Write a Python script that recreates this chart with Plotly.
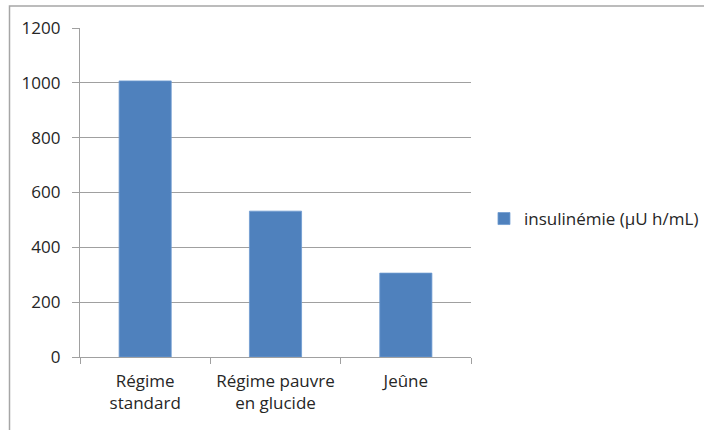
import plotly.graph_objects as go

categories = ["Régime<br>standard", "Régime pauvre<br>en glucide", "Jeûne"]
values = [1007, 532, 306]
series_name = "insulinémie (µU h/mL)"
y_ticks = [0, 200, 400, 600, 800, 1000, 1200]

font_family = "'Open Sans', 'Noto Sans', sans-serif"
grid_col = "#a0a0a0"
text_col = "#262626"

fig = go.Figure()
fig.add_trace(go.Bar(
    x=categories, y=values, name=series_name,
    marker=dict(color="#4f81bd", line=dict(color="#6f9bd0", width=0.8)),
    showlegend=True,
))

fig.update_layout(
    width=704, height=430,
    margin=dict(l=80, r=233, t=28, b=73, autoexpand=False),
    paper_bgcolor="white", plot_bgcolor="white",
    font=dict(family=font_family, size=17, color=text_col),
    bargap=0.6,
    showlegend=True,
    legend=dict(x=1.0332, y=0.4195, xanchor="left", yanchor="middle",
                font=dict(size=17, color=text_col), bgcolor="rgba(0,0,0,0)",
                itemwidth=30, tracegroupgap=0),
    xaxis=dict(
        showgrid=False, showline=True, linecolor=grid_col, linewidth=1.3,
        ticks="outside", tickson="boundaries", ticklen=6, tickcolor=grid_col,
        tickwidth=1.3, ticklabelstandoff=8, tickangle=0, automargin=False,
    ),
    yaxis=dict(
        range=[0, 1200], tickvals=y_ticks, showgrid=True, gridcolor=grid_col,
        gridwidth=1.3, showline=True, linecolor=grid_col, linewidth=1.3,
        ticks="outside", ticklen=7, tickcolor=grid_col, tickwidth=1.3,
        zeroline=False, ticklabelstandoff=8, automargin=False,
    ),
)

# outer chart-area frame (only left and top edges are visible in the crop)
fx0, fy_top, fx_right, fy_bot = -0.1803, 1.0669, 1.7, -0.3
fig.add_shape(type="path", xref="paper", yref="paper",
              path=f"M {fx0},{fy_bot} L {fx0},{fy_top} L {fx_right},{fy_top}",
              line=dict(color="#a6a6a6", width=1.5), layer="below")

fig.write_html("out.html", config={"displayModeBar": False},
               post_script="document.body.style.margin='0px';")
